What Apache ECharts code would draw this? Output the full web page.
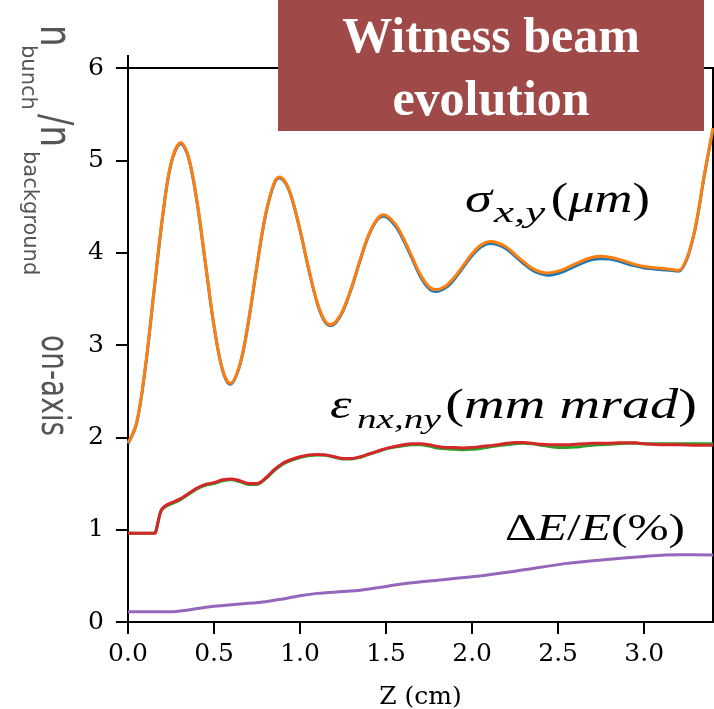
<!DOCTYPE html>
<html>
<head>
<meta charset="utf-8">
<script src="https://cdn.jsdelivr.net/npm/echarts@6/dist/echarts.min.js"></script>
<style>
  html, body { margin: 0; padding: 0; background: #fff; }
  #chart { width: 714px; height: 709px; }
</style>
</head>
<body>
<div id="chart"></div>
<script>
// Propagation distance (cm) for the spot-size traces
const zSigma = [0.00, 0.05, 0.10, 0.15, 0.20, 0.25, 0.307, 0.35, 0.40, 0.45,
  0.50, 0.55, 0.593, 0.65, 0.70, 0.75, 0.80, 0.85, 0.88, 0.915,
  0.95, 1.00, 1.05, 1.10, 1.14, 1.175, 1.21, 1.25, 1.30, 1.35,
  1.40, 1.45, 1.486, 1.55, 1.60, 1.65, 1.70, 1.75, 1.79, 1.85,
  1.90, 1.95, 2.00, 2.05, 2.106, 2.15, 2.20, 2.25, 2.30, 2.35,
  2.40, 2.436, 2.50, 2.55, 2.60, 2.65, 2.70, 2.746, 2.80, 2.85,
  2.90, 2.95, 3.00, 3.05, 3.10, 3.15, 3.20, 3.25, 3.30, 3.35, 3.40];

// sigma_x (blue) and sigma_y (orange), um
const sigmaX = [1.93, 2.15, 2.74, 3.56, 4.37, 4.96, 5.18, 5.04, 4.56, 3.88,
  3.20, 2.72, 2.575, 2.78, 3.25, 3.86, 4.41, 4.75, 4.81, 4.755,
  4.60, 4.24, 3.82, 3.45, 3.265, 3.21, 3.247, 3.37, 3.62, 3.92,
  4.19, 4.36, 4.395, 4.30, 4.14, 3.94, 3.74, 3.61, 3.58, 3.625,
  3.72, 3.845, 3.97, 4.06, 4.10, 4.085, 4.04, 3.96, 3.88, 3.81,
  3.77, 3.755, 3.775, 3.81, 3.855, 3.895, 3.925, 3.935, 3.93, 3.91,
  3.88, 3.855, 3.835, 3.825, 3.815, 3.81, 3.80, 3.94, 4.29, 4.84, 5.34];
const sigmaY = [1.94, 2.16, 2.75, 3.57, 4.38, 4.97, 5.19, 5.05, 4.57, 3.89,
  3.21, 2.73, 2.585, 2.79, 3.26, 3.87, 4.42, 4.76, 4.82, 4.765,
  4.61, 4.25, 3.83, 3.46, 3.275, 3.22, 3.257, 3.38, 3.63, 3.93,
  4.20, 4.37, 4.41, 4.32, 4.16, 3.96, 3.76, 3.63, 3.60, 3.645,
  3.74, 3.865, 3.99, 4.08, 4.12, 4.105, 4.06, 3.98, 3.90, 3.83,
  3.79, 3.78, 3.80, 3.835, 3.88, 3.92, 3.95, 3.96, 3.95, 3.93,
  3.90, 3.87, 3.85, 3.84, 3.83, 3.82, 3.81, 3.95, 4.30, 4.85, 5.35];

// Propagation distance (cm) for the emittance traces
const zEmit = [0.00, 0.15, 0.16, 0.19, 0.21, 0.25, 0.30, 0.35, 0.40, 0.45,
  0.50, 0.55, 0.60, 0.65, 0.70, 0.75, 0.80, 0.85, 0.90, 0.95,
  1.00, 1.05, 1.10, 1.15, 1.20, 1.25, 1.30, 1.35, 1.40, 1.45,
  1.50, 1.55, 1.60, 1.65, 1.70, 1.75, 1.80, 1.85, 1.90, 1.95,
  2.00, 2.05, 2.10, 2.15, 2.20, 2.25, 2.30, 2.35, 2.40, 2.45,
  2.50, 2.55, 2.60, 2.65, 2.70, 2.75, 2.80, 2.85, 2.90, 2.95,
  3.00, 3.05, 3.10, 3.20, 3.30, 3.40];

// normalized emittance eps_nx (green) and eps_ny (red), mm mrad
const emitX = [0.96, 0.96, 0.97, 1.19, 1.24, 1.28, 1.32, 1.38, 1.44, 1.48,
  1.50, 1.53, 1.54, 1.52, 1.49, 1.49, 1.55, 1.64, 1.71, 1.75,
  1.78, 1.80, 1.81, 1.805, 1.785, 1.765, 1.765, 1.785, 1.815, 1.845,
  1.875, 1.895, 1.91, 1.92, 1.92, 1.905, 1.885, 1.875, 1.87, 1.865,
  1.87, 1.88, 1.895, 1.91, 1.92, 1.93, 1.935, 1.93, 1.915, 1.90,
  1.89, 1.89, 1.895, 1.905, 1.915, 1.92, 1.925, 1.93, 1.935, 1.935,
  1.93, 1.93, 1.93, 1.93, 1.93, 1.93];
const emitY = [0.96, 0.96, 0.97, 1.20, 1.25, 1.29, 1.33, 1.39, 1.45, 1.49,
  1.51, 1.54, 1.55, 1.53, 1.50, 1.50, 1.56, 1.65, 1.72, 1.76,
  1.79, 1.81, 1.815, 1.81, 1.79, 1.77, 1.77, 1.79, 1.82, 1.85,
  1.88, 1.90, 1.92, 1.93, 1.93, 1.92, 1.90, 1.89, 1.89, 1.885,
  1.89, 1.90, 1.91, 1.92, 1.935, 1.945, 1.945, 1.935, 1.925, 1.92,
  1.92, 1.92, 1.925, 1.93, 1.935, 1.935, 1.935, 1.94, 1.94, 1.94,
  1.93, 1.925, 1.92, 1.92, 1.915, 1.915];

// Energy spread, %
const zSpread = [0.00, 0.25, 0.35, 0.50, 0.65, 0.80, 0.90, 1.00, 1.10, 1.25,
  1.35, 1.45, 1.55, 1.65, 1.75, 2.00, 2.25, 2.55, 2.80, 3.00,
  3.12, 3.20, 3.40];
const energySpread = [0.11, 0.11, 0.13, 0.17, 0.195, 0.22, 0.25, 0.285, 0.31, 0.33,
  0.345, 0.37, 0.40, 0.425, 0.445, 0.49, 0.55, 0.635, 0.68, 0.71,
  0.726, 0.728, 0.726];

const xTicks = [0, 0.5, 1.0, 1.5, 2.0, 2.5, 3.0];

function pairs(xs, ys) {
  return xs.map((x, i) => [x, ys[i]]);
}

const serifFont = 'DejaVu Serif';
const mathFont = 'Liberation Serif';
const labelGray = '#555555';

function lineSeries(name, xs, ys, color, smooth) {
  return {
    name: name,
    type: 'line',
    data: pairs(xs, ys),
    showSymbol: false,
    smooth: smooth,
    lineStyle: { color: color, width: 3 },
    itemStyle: { color: color },
    emphasis: { disabled: true }
  };
}

// Math annotation pieces. Each piece is placed by its baseline;
// the canvas 'middle' line sits about 0.34 em above the baseline.
const MID_TO_BASE = 0.3375;
const mathRich = {
  it: { fontFamily: mathFont, fontStyle: 'italic', fill: '#000' },
  rm: { fontFamily: mathFont, fill: '#000' }
};

function mathPiece(text, x, baseline, size, sx, align, italic) {
  return {
    type: 'text',
    x: x, y: baseline - MID_TO_BASE * size,
    scaleX: sx,
    z: 50,
    style: {
      legacy: false,
      text: text,
      fontFamily: mathFont,
      fontStyle: italic ? 'italic' : 'normal',
      fontSize: size,
      fill: '#000',
      rich: {
        it: Object.assign({ fontSize: size }, mathRich.it),
        rm: Object.assign({ fontSize: size }, mathRich.rm)
      },
      align: align, verticalAlign: 'middle'
    }
  };
}

function yLabelPart(text, x, y, size, sy) {
  return {
    type: 'text',
    x: x, y: y,
    rotation: -Math.PI / 2,
    scaleY: sy,
    z: 50,
    style: {
      legacy: false,
      text: text,
      font: size + 'px "DejaVu Sans"',
      fill: labelGray,
      align: 'left', verticalAlign: 'middle'
    }
  };
}

const chart = echarts.init(document.getElementById('chart'), null, { renderer: 'canvas' });

chart.setOption({
  animation: false,
  backgroundColor: '#ffffff',
  grid: {
    left: 128, right: 1, top: 68, bottom: 87,
    outerBoundsMode: 'none',
    containLabel: false,
    show: true, borderColor: '#000', borderWidth: 2, backgroundColor: 'transparent'
  },
  xAxis: {
    type: 'value',
    min: 0, max: 3.4, interval: 0.5,
    name: 'Z (cm)',
    nameLocation: 'middle',
    nameGap: 63,
    nameTextStyle: { fontFamily: serifFont, fontSize: 25, color: '#000' },
    axisLine: { show: true, onZero: false, lineStyle: { color: '#000', width: 2 } },
    axisTick: { show: true, inside: false, length: 12, customValues: xTicks, lineStyle: { color: '#000', width: 2 } },
    axisLabel: {
      customValues: xTicks,
      margin: 20,
      fontFamily: serifFont, fontSize: 25, color: '#000',
      formatter: v => v.toFixed(1)
    },
    splitLine: { show: false }
  },
  yAxis: {
    type: 'value',
    min: 0, max: 6, interval: 1,
    axisLine: { show: true, onZero: false, lineStyle: { color: '#000', width: 2 } },
    axisTick: { show: true, inside: false, length: 12, lineStyle: { color: '#000', width: 2 } },
    axisLabel: { margin: 24, fontFamily: serifFont, fontSize: 25, color: '#000' },
    splitLine: { show: false }
  },
  series: [
    lineSeries('sigma_x', zSigma, sigmaX, '#1f77b4', 0.35),
    lineSeries('sigma_y', zSigma, sigmaY, '#ff7f0e', 0.35),
    lineSeries('eps_nx', zEmit, emitX, '#2ca02c', 0.3),
    lineSeries('eps_ny', zEmit, emitY, '#d62728', 0.3),
    lineSeries('dE/E', zSpread, energySpread, '#9467bd', 0.3)
  ],
  graphic: {
    elements: [
      // short tick above the top-left corner
      { type: 'line', z: 40, shape: { x1: 128, y1: 55, x2: 128, y2: 68 }, style: { stroke: '#000', lineWidth: 2 } },
      // title banner
      { type: 'rect', z: 60, shape: { x: 278, y: 0, width: 426, height: 131 }, style: { fill: '#9f4a48' } },
      {
        type: 'text', z: 61, x: 491, y: 8,
        style: {
          legacy: false,
          text: 'Witness beam\nevolution',
          font: 'bold 50px "Liberation Serif"',
          lineHeight: 63,
          fill: '#ffffff',
          align: 'center', verticalAlign: 'top'
        }
      },
      // y-axis title, reading top to bottom
      yLabelPart('n', 52, 25, 34, 1.3),
      yLabelPart('bunch', 27, 45, 21, 1.0),
      yLabelPart('/n', 52, 114, 34, 1.3),
      yLabelPart('background', 29, 151, 21, 1.0),
      yLabelPart('on-axis', 52, 335, 28, 1.37),
      // sigma_{x,y}(um)
      mathPiece('σ', 465, 215, 42, 1.3, 'left', true),
      mathPiece('x,y', 494, 224, 30, 1.5, 'left', true),
      mathPiece('{rm|(}{it|μm}{rm|)}', 650, 215, 42, 1.25, 'right', false),
      // eps_{nx,ny}(mm mrad)
      mathPiece('ε', 330, 421, 42, 1.3, 'left', true),
      mathPiece('nx,ny', 357, 430, 28, 1.4, 'left', true),
      mathPiece('{rm|(}{it|mm mrad}{rm|)}', 697, 421, 42, 1.34, 'right', false),
      // Delta E / E (%)
      mathPiece('{rm|Δ}{it|E}{rm|/}{it|E}{rm|(%)}', 685, 543, 38, 1.3, 'right', false)
    ]
  }
});
</script>
</body>
</html>
